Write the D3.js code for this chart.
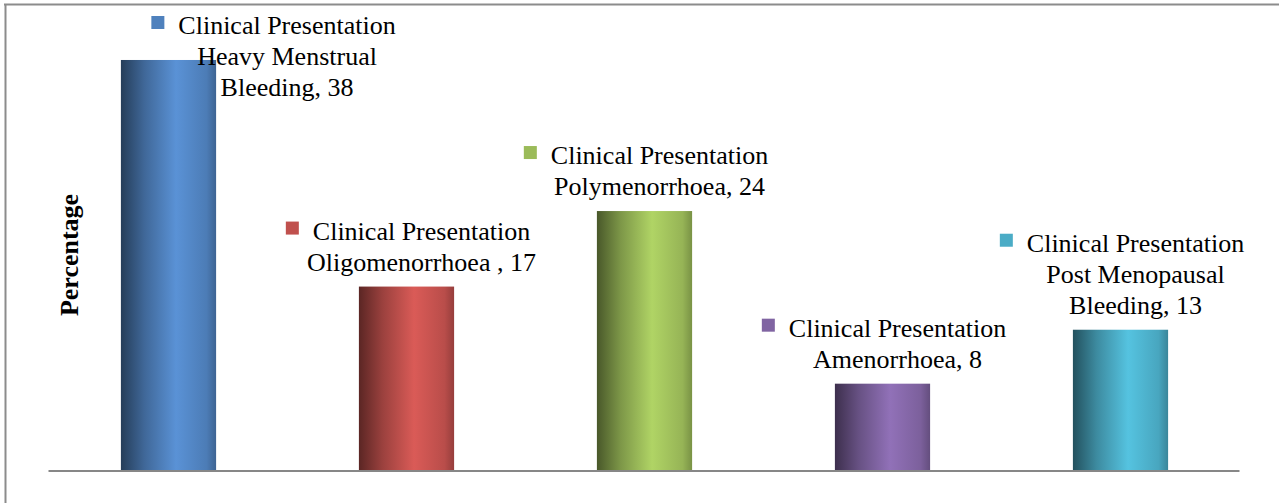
<!DOCTYPE html>
<html>
<head>
<meta charset="utf-8">
<script src="https://cdn.jsdelivr.net/npm/d3@7"></script>
<style>
  html, body { margin: 0; padding: 0; background: #fff; }
  svg { display: block; }
  text { font-family: "Liberation Serif", "Times New Roman", serif; fill: #000; }
</style>
</head>
<body>
<svg id="chart" width="1279" height="503"></svg>
<script>
// chart data
const seriesName = "Clinical Presentation";
const categories = ["Heavy Menstrual Bleeding", "Oligomenorrhoea ", "Polymenorrhoea", "Amenorrhoea", "Post Menopausal Bleeding"];
const values = [38, 17, 24, 8, 13];
// label lines as Excel wrapped them
const labelLines = [
    ["Heavy Menstrual", "Bleeding, 38"],
    ["Oligomenorrhoea , 17"],
    ["Polymenorrhoea, 24"],
    ["Amenorrhoea, 8"],
    ["Post Menopausal", "Bleeding, 13"]
];
const colors = ["#4f81bd", "#c0504d", "#9bbb59", "#8064a2", "#4bacc6"];
const yTitle = "Percentage";

const width = 1279, height = 503;
const baseY = 470;
const lineH = 31;
const fontSize = 26;

const svg = d3.select("#chart");

// frame (top + left visible in the crop)
svg.append("line").attr("x1", 4).attr("x2", 1279).attr("y1", 4.5).attr("y2", 4.5)
    .attr("stroke", "#8c8c8c").attr("stroke-width", 2);
svg.append("line").attr("x1", 5.5).attr("x2", 5.5).attr("y1", 4).attr("y2", height)
    .attr("stroke", "#8c8c8c").attr("stroke-width", 2);

let x = d3.scaleBand()
    .domain(categories)
    .range([49.5, 1239.5])
    .paddingInner(0.6)
    .paddingOuter(0.3);

let y = d3.scaleLinear()
    .domain([0, 40])
    .range([baseY, 38.4]);

// cylinder-ish gradients
let defs = svg.append("defs");
colors.forEach((c, i) => {
    let g = defs.append("linearGradient")
        .attr("id", "grad" + i)
        .attr("x1", "0%").attr("x2", "100%").attr("y1", "0%").attr("y2", "0%");
    g.append("stop").attr("offset", "0%").attr("stop-color", d3.color(c).darker(2.1));
    g.append("stop").attr("offset", "25%").attr("stop-color", d3.color(c).darker(0.6));
    g.append("stop").attr("offset", "58%").attr("stop-color", d3.color(c).brighter(0.35));
    g.append("stop").attr("offset", "90%").attr("stop-color", d3.color(c).darker(0.1));
    g.append("stop").attr("offset", "100%").attr("stop-color", d3.color(c).darker(0.7));
});

svg.append("g").selectAll("rect")
    .data(values)
    .enter().append("rect")
    .attr("x", (d, i) => x(categories[i]))
    .attr("y", d => y(d))
    .attr("width", x.bandwidth())
    .attr("height", d => y(0) - y(d))
    .attr("fill", (d, i) => `url(#grad${i})`);

// category axis line
svg.append("line")
    .attr("x1", x.range()[0] - 1).attr("x2", x.range()[1])
    .attr("y1", baseY + 1).attr("y2", baseY + 1)
    .attr("stroke", "#878787").attr("stroke-width", 2);

// y title
svg.append("text")
    .attr("transform", `translate(78,255) rotate(-90)`)
    .attr("text-anchor", "middle")
    .style("font-size", fontSize + "px")
    .style("font-weight", "bold")
    .text(yTitle);

// data labels
let labels = svg.append("g");
values.forEach((v, i) => {
    let lines = [seriesName].concat(labelLines[i]);
    let cx = x(categories[i]) + x.bandwidth() / 2 + 15;
    let lastC = y(v) - 25;
    let firstC = lastC - lineH * (lines.length - 1);
    // label doesn't fit above the bar: push it down and to the right
    if (firstC < 25) {
        firstC = 25;
        cx += x.step() * 0.435;
    }
    let g = labels.append("g");
    lines.forEach((t, k) => {
        g.append("text")
            .attr("x", cx)
            .attr("y", firstC + k * lineH)
            .attr("dy", "0.35em")
            .attr("text-anchor", "middle")
            .style("font-size", fontSize + "px")
            .text(t);
    });
    let w = g.select("text").node().getComputedTextLength();
    g.append("rect")
        .attr("x", cx - w / 2 - 27)
        .attr("y", firstC - 9)
        .attr("width", 13)
        .attr("height", 13)
        .attr("fill", colors[i]);
});
</script>
</body>
</html>
